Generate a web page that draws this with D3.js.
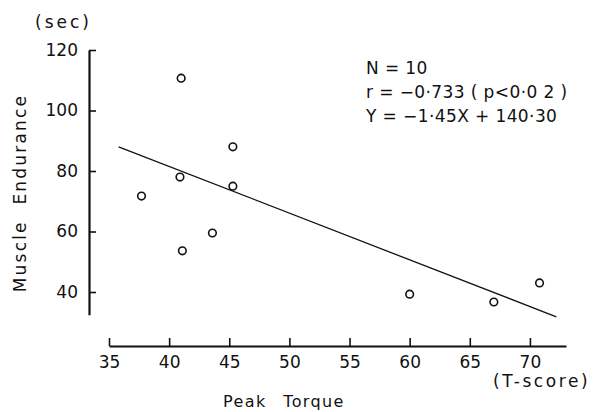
<!DOCTYPE html>
<html>
<head>
<meta charset="utf-8">
<script src="https://cdn.jsdelivr.net/npm/d3@7"></script>
<style>
  body { margin: 0; background: #fff; }
  svg { display: block; }
  text { font-family: "DejaVu Sans", sans-serif; fill: #111; }
  .axis path, .axis line { stroke: #111; }
</style>
</head>
<body>
<div id="chart"></div>
<script>
const width = 594;
const height = 412;

// data
const peakTorque = [41.0, 45.3, 40.9, 45.3, 37.7, 41.1, 43.6, 60.0, 67.0, 70.8];
const endurance = [110.7, 88.0, 78.0, 75.0, 71.7, 53.6, 59.5, 39.3, 36.7, 43.0];
const fitX = [35.8, 72.2];
const fitY = [88.0, 31.8];
const xTicks = [35, 40, 45, 50, 55, 60, 65, 70];
const yTicks = [40, 60, 80, 100, 120];
const notes = ['N = 10', 'r = \u22120\u00b7733 ( p<0\u00b70 2 )', 'Y = \u22121\u00b745X + 140\u00b730'];

const svg = d3.select('#chart').append('svg')
  .attr('width', width).attr('height', height);

const xScale = d3.scaleLinear().domain([35, 73]).range([109, 566]);
const yScale = d3.scaleLinear().domain([32.5, 120]).range([314.7, 50]);

// y axis, ticks pointing inwards
const yAxis = svg.append('g')
  .attr('class', 'axis')
  .attr('transform', 'translate(89,0)')
  .call(d3.axisLeft(yScale).tickValues(yTicks).tickSizeInner(-7).tickSizeOuter(0).tickPadding(11));
yAxis.select('.domain').attr('stroke-width', 2.2);
yAxis.selectAll('.tick line').attr('stroke-width', 1.6);
yAxis.selectAll('.tick text').attr('font-size', 17).attr('fill', '#111');

// x axis, ticks pointing up
const xAxis = svg.append('g')
  .attr('class', 'axis')
  .attr('transform', 'translate(0,346)')
  .call(d3.axisBottom(xScale).tickValues(xTicks).tickSizeInner(-8).tickSizeOuter(0).tickPadding(10));
xAxis.select('.domain').attr('stroke-width', 2.2);
xAxis.selectAll('.tick line').attr('stroke-width', 1.6);
xAxis.selectAll('.tick text').attr('font-size', 17).attr('fill', '#111');

// regression line
svg.append('line')
  .attr('x1', xScale(fitX[0])).attr('y1', yScale(fitY[0]))
  .attr('x2', xScale(fitX[1])).attr('y2', yScale(fitY[1]))
  .attr('stroke', '#111').attr('stroke-width', 1.3);

// points
svg.append('g').selectAll('circle')
  .data(peakTorque.map((d, i) => ({ x: d, y: endurance[i] })))
  .join('circle')
  .attr('cx', d => xScale(d.x))
  .attr('cy', d => yScale(d.y))
  .attr('r', 3.8)
  .attr('fill', '#fff')
  .attr('stroke', '#111')
  .attr('stroke-width', 1.6);

// labels
svg.append('text').attr('x', 35).attr('y', 28).attr('font-size', 17)
  .attr('letter-spacing', 3).text('(sec)');
svg.append('text')
  .attr('transform', 'translate(26,193) rotate(-90)')
  .attr('text-anchor', 'middle').attr('font-size', 17).attr('letter-spacing', 2.2)
  .attr('word-spacing', 8)
  .text('Muscle Endurance');
svg.append('text').attr('x', 284).attr('y', 407)
  .attr('text-anchor', 'middle').attr('font-size', 16).attr('letter-spacing', 1.4)
  .attr('word-spacing', 10)
  .text('Peak Torque');
svg.append('text').attr('x', 493).attr('y', 387).attr('font-size', 17)
  .attr('letter-spacing', 2.6).text('(T-score)');

svg.append('g').selectAll('text')
  .data(notes)
  .join('text')
  .attr('x', 366)
  .attr('y', (d, i) => 74 + i * 24)
  .attr('font-size', 17)
  .attr('letter-spacing', 0.4)
  .text(d => d);
</script>
</body>
</html>
